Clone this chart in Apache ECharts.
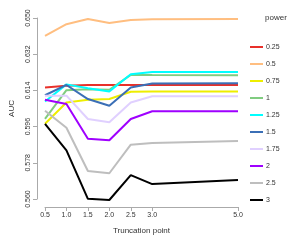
<!DOCTYPE html>
<html>
<head>
<meta charset="utf-8">
<script src="https://cdn.jsdelivr.net/npm/echarts@6/dist/echarts.min.js"></script>
<style>html,body{margin:0;padding:0;background:#fff}#c{width:300px;height:240px}</style>
</head>
<body>
<div id="c"></div>
<script>
var truncation = [0.5, 1.0, 1.5, 2.0, 2.5, 3.0, 5.0];
var xTickLabels = ['0.5', '1.0', '1.5', '2.0', '2.5', '3.0', '5.0'];
var yTicks = [0.560, 0.578, 0.596, 0.614, 0.632, 0.650];
var powers = ['0.25', '0.5', '0.75', '1', '1.25', '1.5', '1.75', '2', '2.5', '3'];
var auc_0_25 = [0.6154, 0.6163, 0.6167, 0.6167, 0.6167, 0.6167, 0.6167];
var auc_0_5  = [0.6411, 0.6469, 0.6495, 0.6475, 0.6490, 0.6494, 0.6495];
var auc_0_75 = [0.5974, 0.6080, 0.6093, 0.6097, 0.6133, 0.6135, 0.6135];
var auc_1    = [0.5998, 0.6141, 0.6146, 0.6143, 0.6217, 0.6216, 0.6215];
var auc_1_25 = [0.6085, 0.6170, 0.6151, 0.6135, 0.6220, 0.6232, 0.6232];
var auc_1_5  = [0.6116, 0.6167, 0.6097, 0.6064, 0.6154, 0.6174, 0.6175];
var auc_1_75 = [0.6114, 0.6114, 0.5998, 0.5982, 0.6080, 0.6111, 0.6111];
var auc_2    = [0.6093, 0.6072, 0.5900, 0.5892, 0.5998, 0.6036, 0.6036];
var auc_2_5  = [0.6039, 0.5954, 0.5739, 0.5728, 0.5870, 0.5879, 0.5889];
var auc_3    = [0.5974, 0.5842, 0.5601, 0.5595, 0.5719, 0.5674, 0.5695];
var seriesValues = [auc_0_25, auc_0_5, auc_0_75, auc_1, auc_1_25, auc_1_5, auc_1_75, auc_2, auc_2_5, auc_3];
var colors = ['#e8302a', '#ffbe80', '#eeee00', '#80cc80', '#00ffff', '#3b6fb6', '#e0d0ff', '#9f00ff', '#bebebe', '#000000'];

var chart = echarts.init(document.getElementById('c'), null, {renderer: 'canvas'});
var font = 'Liberation Sans, Arial, sans-serif';
var series = powers.map(function (p, i) {
  return {
    name: p,
    type: 'line',
    clip: false,
    showSymbol: false,
    symbol: 'none',
    lineStyle: {width: 2, color: colors[i]},
    itemStyle: {color: colors[i]},
    data: truncation.map(function (x, j) { return [x, seriesValues[i][j]]; })
  };
});
chart.setOption({
  animation: false,
  backgroundColor: '#fff',
  grid: {left: 38, right: 62, top: 18, bottom: 39},
  title: {text: 'power', left: 265, top: 14, padding: 0, textStyle: {fontFamily: font, fontSize: 8, fontWeight: 'normal', color: '#333'}},
  legend: {
    orient: 'vertical', left: 250, top: 42, padding: 0, icon: 'rect', itemWidth: 13, itemHeight: 2, itemGap: 7,
    textStyle: {fontFamily: font, fontSize: 7, lineHeight: 10, color: '#333', padding: [0, 0, 0, -2]},
    data: powers
  },
  xAxis: {
    type: 'value', min: 0.5, max: 5.0, offset: 8,
    name: 'Truncation point', nameLocation: 'middle', nameGap: 20,
    nameTextStyle: {fontFamily: font, fontSize: 8, color: '#333'},
    axisLine: {show: true, lineStyle: {color: '#aaa', width: 1}},
    axisTick: {show: true, length: 4, customValues: truncation, lineStyle: {color: '#aaa'}},
    axisLabel: {customValues: truncation, formatter: function (v) { return v.toFixed(1); }, fontFamily: font, fontSize: 7, color: '#333', margin: 5},
    splitLine: {show: false}
  },
  yAxis: {
    type: 'value', min: 0.56, max: 0.65, offset: 8,
    name: 'AUC', nameLocation: 'middle', nameGap: 21, nameRotate: 90,
    nameTextStyle: {fontFamily: font, fontSize: 8, color: '#333'},
    axisLine: {show: true, lineStyle: {color: '#aaa', width: 1}},
    axisTick: {show: true, length: 4, customValues: yTicks, lineStyle: {color: '#aaa'}},
    axisLabel: {customValues: yTicks, rotate: 90, formatter: function (v) { return v.toFixed(3); }, fontFamily: font, fontSize: 7, color: '#333', margin: 5},
    splitLine: {show: false}
  },
  series: series
});
</script>
</body>
</html>
